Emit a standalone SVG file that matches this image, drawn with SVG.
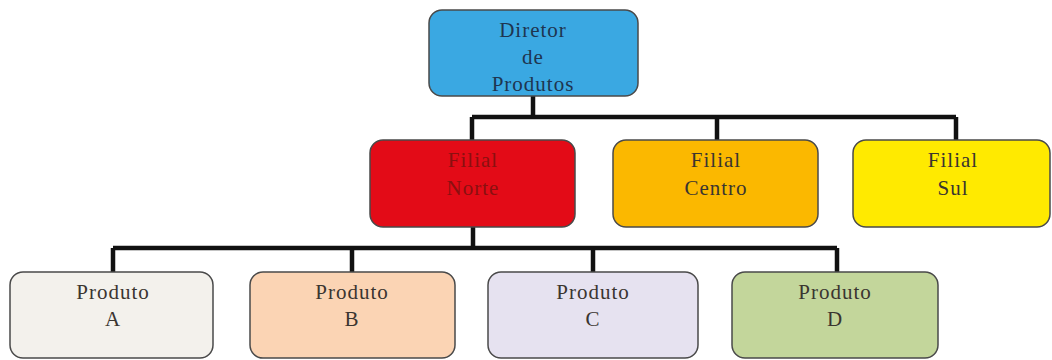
<svg xmlns="http://www.w3.org/2000/svg" width="1052" height="360" viewBox="0 0 1052 360">
<style>
.box{stroke:#4a4a4a;stroke-width:1.5}
.t{font-family:"Liberation Serif","Times New Roman",serif;font-size:21px;letter-spacing:1px;text-anchor:middle;fill:#3a3530}
.conn{fill:none;stroke:#111;stroke-width:4.5}
</style>
<rect width="1052" height="360" fill="#ffffff"/>
<g id="connectors">
<path class="conn" d="M533 96 V117 M472 117 H956 M472 117 V140 M717 117 V140 M956 117 V140"/>
<path class="conn" d="M473 227 V248 M113 248 H837 M113 248 V272 M352 248 V272 M593 248 V272 M837 248 V272"/>
</g>
<g id="diretor">
<rect class="box" x="429" y="10" width="209" height="86" rx="13" fill="#3aa8e2" stroke="#2a5a80"/>
<text class="t" x="533" y="37" style="fill:#1e3550">Diretor</text>
<text class="t" x="533" y="64" style="fill:#1e3550">de</text>
<text class="t" x="533" y="91" style="fill:#1e3550">Produtos</text>
</g>
<g id="filial-norte">
<rect class="box" x="370" y="140" width="205" height="87" rx="13" fill="#e30b17"/>
<text class="t" x="473" y="167" style="fill:#8a1010">Filial</text>
<text class="t" x="473" y="195" style="fill:#8a1010">Norte</text>
</g>
<g id="filial-centro">
<rect class="box" x="613" y="140" width="205" height="87" rx="13" fill="#fbb800"/>
<text class="t" x="716" y="167">Filial</text>
<text class="t" x="716" y="195">Centro</text>
</g>
<g id="filial-sul">
<rect class="box" x="853" y="140" width="197" height="87" rx="13" fill="#ffea00"/>
<text class="t" x="953" y="167">Filial</text>
<text class="t" x="953" y="195">Sul</text>
</g>
<g id="produto-a">
<rect class="box" x="10" y="272" width="203" height="86" rx="13" fill="#f3f1ec" stroke="#777"/>
<text class="t" x="113" y="299">Produto</text>
<text class="t" x="113" y="326">A</text>
</g>
<g id="produto-b">
<rect class="box" x="250" y="272" width="205" height="86" rx="13" fill="#fbd4b4" stroke="#777"/>
<text class="t" x="352" y="299">Produto</text>
<text class="t" x="352" y="326">B</text>
</g>
<g id="produto-c">
<rect class="box" x="488" y="272" width="210" height="86" rx="13" fill="#e6e2f0" stroke="#777"/>
<text class="t" x="593" y="299">Produto</text>
<text class="t" x="593" y="326">C</text>
</g>
<g id="produto-d">
<rect class="box" x="732" y="272" width="206" height="86" rx="13" fill="#c3d69b" stroke="#777"/>
<text class="t" x="835" y="299">Produto</text>
<text class="t" x="835" y="326">D</text>
</g>
</svg>
